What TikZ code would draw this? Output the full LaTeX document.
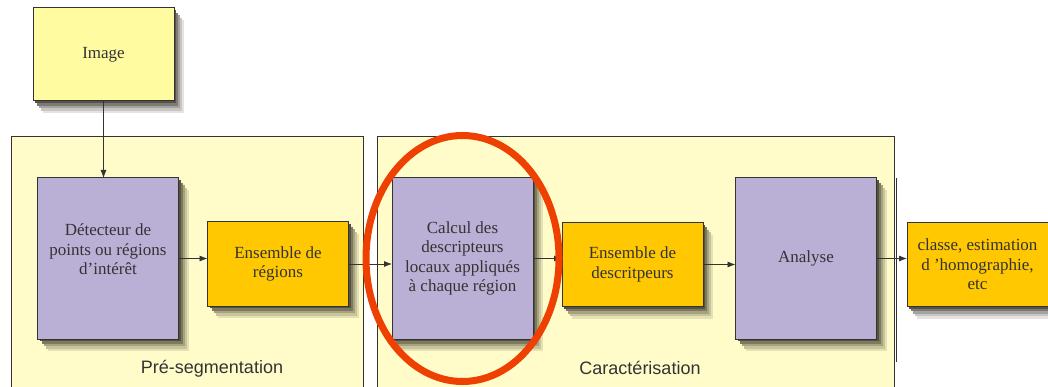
\documentclass[tikz,border=0pt]{standalone}
\usepackage{fontspec}
\setmainfont{Liberation Serif}
\setsansfont{Liberation Sans}
\usetikzlibrary{arrows.meta, positioning, backgrounds}

\definecolor{paleyellow}{RGB}{255,251,160}
\definecolor{groupyellow}{RGB}{255,252,202}
\definecolor{lavender}{RGB}{186,176,214}
\definecolor{amber}{RGB}{255,200,0}
\definecolor{ringred}{RGB}{238,64,0}
\definecolor{inkgray}{RGB}{51,51,51}
\definecolor{shadowink}{RGB}{30,26,14}

\begin{document}
\begin{tikzpicture}[x=1pt, y=-1pt, >={Latex[length=8pt, width=6pt]}]
    \tikzstyle{groupbox}=[draw=inkgray, fill=groupyellow, line width=0.8pt]
    \tikzstyle{stagebox}=[draw=inkgray, line width=1pt, rectangle, inner sep=0pt, outer sep=0pt, align=center,
        text=inkgray, font=\fontsize{17}{19.5}\selectfont]
    \tikzstyle{bigbox}=[stagebox, fill=lavender, minimum width=141pt, minimum height=161pt]
    \tikzstyle{setbox}=[stagebox, fill=amber, minimum width=141pt, minimum height=84pt]
    \tikzstyle{caption}=[text=inkgray, font=\sffamily\fontsize{18}{20}\selectfont]
    \tikzstyle{link}=[draw=inkgray, line width=0.8pt, ->]

    \useasboundingbox (0,0) rectangle (1048,387);

    \node[stagebox, fill=paleyellow, minimum width=141pt, minimum height=93pt] (img) at (103.5,54.5) {Image};

    \node[bigbox, label={[text=inkgray, align=center, font=\fontsize{17}{19.5}\selectfont, yshift=9pt]center:D\'etecteur de\\points ou r\'egions\\d'int\'er\^et}] (det) at (108,258.5) {};
    \node[setbox] (ensreg) at (278,264) {Ensemble de\\régions};
    \node[bigbox] (calcul) at (462.5,258.5) {Calcul des\\descripteurs\\locaux appliqués\\à chaque région};
    \node[setbox] (ensdesc) at (632.5,264.5) {Ensemble de\\descritpeurs};
    \node[bigbox] (analyse) at (806,258.5) {Analyse};
    \node[setbox] (result) at (977.5,264.5) {classe, estimation\\d 'homographie,\\etc};

    % groups and soft shadows behind the boxes
    \begin{scope}[on background layer]
        \draw[groupbox] (11,136) rectangle (363,400);
        \draw[groupbox] (377,136) rectangle (894,400);
        \foreach \stage/\under in {img/white, det/groupyellow, ensreg/groupyellow, calcul/groupyellow, ensdesc/groupyellow, analyse/groupyellow, result/white}
            \foreach \off/\tone in {10/12, 8/25, 6/40, 4/58, 2/75}
                \fill[shadowink!\tone!\under] ([shift={(\off,1.2*\off)}]\stage.north west) rectangle ([shift={(\off,1.2*\off)}]\stage.south east);
    \end{scope}

    \node[caption] (presegcap) at (212,369) {Pré-segmentation};
    \node[caption] (charcap) at (640,368) {Caractérisation};

    \draw[link] (img.south) -- (img.south |- det.north);
    \draw[link] (det.east) -- (det.east -| ensreg.west);
    \draw[link] (ensreg.east) -- (ensreg.east -| calcul.west);
    \draw[link] (calcul.east) -- (calcul.east -| ensdesc.west);
    \draw[link] (ensdesc.east) -- (ensdesc.east -| analyse.west);
    \draw[link] (analyse.east) -- (analyse.east -| result.west);

    \draw[inkgray, line width=0.8pt] ([xshift=20pt]analyse.north east) -- ++(0,184);

    \draw[ringred, line width=7pt] (calcul.center) ellipse [x radius=96.5, y radius=123];
\end{tikzpicture}
\end{document}
